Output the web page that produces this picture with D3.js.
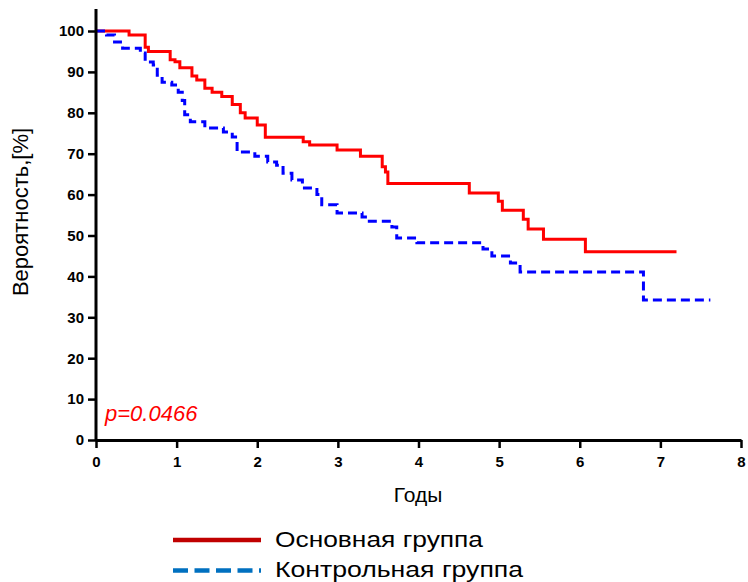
<!DOCTYPE html>
<html>
<head>
<meta charset="utf-8">
<script src="https://cdn.jsdelivr.net/npm/d3@7"></script>
<style>
  body { margin: 0; background: #fff; }
  text { font-family: "Liberation Sans", Arial, sans-serif; }
</style>
</head>
<body>
<script>
// Kaplan-Meier steps: [years, %]
const mainGroup = [
  [0, 100], [0.41, 99], [0.61, 96], [0.65, 95], [0.92, 93], [0.98, 92.5],
  [1.04, 91], [1.19, 89], [1.25, 88], [1.35, 86], [1.44, 85], [1.56, 84],
  [1.69, 82], [1.79, 80], [1.85, 78.7], [2.0, 77], [2.1, 74], [2.57, 72.9],
  [2.65, 72.1], [2.99, 70.9], [3.28, 69.4], [3.55, 66.8], [3.59, 65.5],
  [3.62, 62.7], [4.63, 60.4], [4.99, 58.4], [5.04, 56.2], [5.3, 54],
  [5.36, 51.6], [5.55, 49.1], [6.07, 46.0], [7.2, 46.0]
];
const controlGroup = [
  [0, 100], [0.13, 99], [0.23, 97.3], [0.33, 95.8], [0.55, 94.6], [0.61, 92.4],
  [0.71, 91.7], [0.76, 89.2], [0.82, 87.5], [0.94, 86.8], [1.02, 85], [1.07, 83],
  [1.1, 79.5], [1.17, 77.8], [1.35, 76.3], [1.58, 75.3], [1.69, 74.1],
  [1.75, 70.4], [1.97, 69.4], [2.13, 68], [2.24, 67.2], [2.32, 65.2],
  [2.43, 63.6], [2.56, 61.6], [2.74, 60], [2.8, 57.5], [2.99, 55.5],
  [3.3, 54.5], [3.37, 53.5], [3.67, 52.1], [3.73, 49.4], [3.98, 48.2],
  [4.8, 46.7], [4.91, 45], [5.14, 43.3], [5.26, 41.1], [6.79, 34.2], [7.62, 34.2]
];
const xTicks = [0, 1, 2, 3, 4, 5, 6, 7, 8];
const yTicks = [0, 10, 20, 30, 40, 50, 60, 70, 80, 90, 100];
const legendLabels = ["Основная группа", "Контрольная группа"];
const pValue = "p=0.0466";

const width = 748, height = 582;

const x = d3.scaleLinear().domain([0, 8]).range([96, 741]);
const y = d3.scaleLinear().domain([0, 100]).range([440, 31]);

const svg = d3.select("body").append("svg")
  .attr("width", width)
  .attr("height", height)
  .attr("viewBox", [0, 0, width, height]);

// curves
const line = d3.line()
  .x(d => x(d[0]))
  .y(d => y(d[1]))
  .curve(d3.curveStepAfter);

svg.append("path")
  .datum(mainGroup)
  .attr("fill", "none")
  .attr("stroke", "#ff0000")
  .attr("stroke-width", 3)
  .attr("d", line);

svg.append("path")
  .datum(controlGroup)
  .attr("fill", "none")
  .attr("stroke", "#0000ff")
  .attr("stroke-width", 3)
  .attr("stroke-dasharray", "9,5")
  .attr("d", line);

// X axis
svg.append("g")
  .attr("transform", `translate(0,${y(0)})`)
  .call(d3.axisBottom(x).tickValues(xTicks).tickSize(8).tickSizeOuter(0).tickPadding(8))
  .call(g => g.select(".domain").attr("stroke-width", 3))
  .call(g => g.selectAll(".tick line").attr("stroke-width", 2.5))
  .call(g => g.selectAll(".tick text")
    .attr("font-size", 15).attr("font-weight", "bold").attr("fill", "#000")
    .attr("font-family", "Liberation Sans, Arial, sans-serif"));

// Y axis
svg.append("g")
  .attr("transform", `translate(${x(0)},0)`)
  .call(d3.axisLeft(y).tickValues(yTicks).tickSize(8).tickSizeOuter(0).tickPadding(4))
  .call(g => g.select(".domain").attr("stroke-width", 3)
    .attr("d", `M0,${y(0) + 1}V9`))
  .call(g => g.selectAll(".tick line").attr("stroke-width", 2.5))
  .call(g => g.selectAll(".tick text")
    .attr("font-size", 15).attr("font-weight", "bold").attr("fill", "#000")
    .attr("font-family", "Liberation Sans, Arial, sans-serif"));

// axis titles
svg.append("text")
  .attr("x", 418).attr("y", 502)
  .attr("text-anchor", "middle")
  .attr("font-size", 21)
  .text("Годы");

svg.append("text")
  .attr("transform", "translate(28,212) rotate(-90)")
  .attr("text-anchor", "middle")
  .attr("font-size", 22)
  .text("Вероятность,[%]");

// p value
svg.append("text")
  .attr("x", 105).attr("y", 421)
  .attr("fill", "#ff0000")
  .attr("font-size", 22)
  .attr("font-style", "italic")
  .text(pValue);

// legend
const legend = svg.append("g");
const legendStyles = [
  { color: "#c00000", dash: null, textWidth: 208 },
  { color: "#0070c0", dash: "15,6.5", textWidth: 248 }
];
legendLabels.forEach((label, i) => {
  const ly = 540 + i * 30.5;
  legend.append("line")
    .attr("x1", 173).attr("x2", 261)
    .attr("y1", ly).attr("y2", ly)
    .attr("stroke", legendStyles[i].color)
    .attr("stroke-width", 4.5)
    .attr("stroke-dasharray", legendStyles[i].dash);
  legend.append("text")
    .attr("x", 275).attr("y", ly + 6.5)
    .attr("font-size", 22)
    .attr("fill", "#000")
    .attr("textLength", legendStyles[i].textWidth)
    .attr("lengthAdjust", "spacingAndGlyphs")
    .text(label);
});
</script>
</body>
</html>
